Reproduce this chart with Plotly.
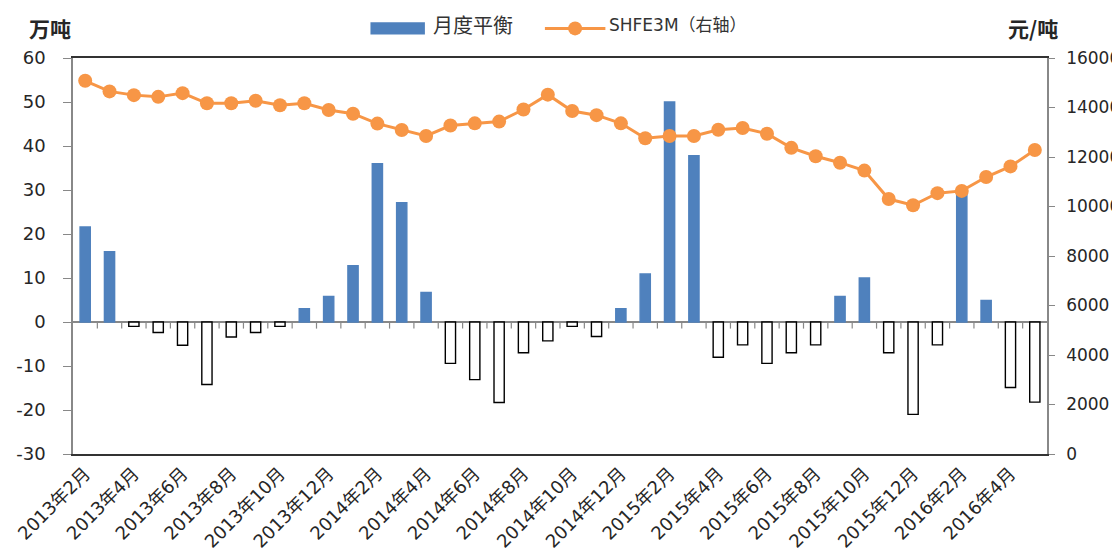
import plotly.graph_objects as go

months = ["2013年2月", "2013年3月", "2013年4月", "2013年5月", "2013年6月", "2013年7月",
          "2013年8月", "2013年9月", "2013年10月", "2013年11月", "2013年12月",
          "2014年1月", "2014年2月", "2014年3月", "2014年4月", "2014年5月", "2014年6月",
          "2014年7月", "2014年8月", "2014年9月", "2014年10月", "2014年11月", "2014年12月",
          "2015年1月", "2015年2月", "2015年3月", "2015年4月", "2015年5月", "2015年6月",
          "2015年7月", "2015年8月", "2015年9月", "2015年10月", "2015年11月", "2015年12月",
          "2016年1月", "2016年2月", "2016年3月", "2016年4月", "2016年5月"]

balance = [21.6, 16.0, -1.0, -2.4, -5.3, -14.2, -3.4, -2.4, -1.0, 3.0, 5.8,
           12.8, 36.0, 27.1, 6.7, -9.4, -13.1, -18.3, -7.0, -4.3, -1.0, -3.3, 3.0,
           10.9, 50.0, 37.8, -8.0, -5.2, -9.4, -7.0, -5.2, 5.8, 10.0, -7.0, -21.0,
           -5.2, 29.3, 4.9, -14.9, -18.2]

shfe = [15080, 14650, 14500, 14430, 14580, 14170, 14170, 14270, 14090, 14170, 13900,
        13750, 13350, 13090, 12850, 13270, 13360, 13430, 13920, 14520, 13860, 13690, 13360,
        12760, 12850, 12850, 13100, 13170, 12940, 12370, 12030, 11770, 11450, 10300, 10050,
        10540, 10630, 11190, 11620, 12280]

x_tick_labels = months[::2]
left_ticks = [-30, -20, -10, 0, 10, 20, 30, 40, 50, 60]
left_tick_text = ["-30", "-20", "-10", "0", "10", "20", "30", "40", "50", "60"]
right_ticks = [0, 2000, 4000, 6000, 8000, 10000, 12000, 14000, 16000]
right_tick_text = ["0", "2000", "4000", "6000", "8000", "10000", "12000", "14000", "16000"]

BLUE = "#4F81BD"
ORANGE = "#F79646"
TXT = "#262626"
FONT = "DejaVu Sans, Noto Sans CJK SC"
CJK = "Noto Sans CJK SC"

bar_fill = [BLUE if v >= 0 else "white" for v in balance]
bar_line = [BLUE if v >= 0 else "black" for v in balance]

fig = go.Figure()
fig.add_trace(go.Bar(
    x=months, y=balance, name="月度平衡", width=0.42,
    marker=dict(color=bar_fill, line=dict(color=bar_line, width=1.4)),
    showlegend=False, yaxis="y",
))
fig.add_trace(go.Scatter(
    x=months, y=shfe, name="SHFE3M（右轴）", mode="lines+markers",
    line=dict(color=ORANGE, width=3),
    marker=dict(color=ORANGE, size=14),
    showlegend=False, yaxis="y2",
))

# boundary tick marks on the zero line (category axis ticks between bars)
shapes = []
for i in range(1, len(months)):
    shapes.append(dict(type="line", xref="x", yref="y", x0=i - 0.5, x1=i - 0.5,
                       y0=0, y1=-1.5, line=dict(color="#888888", width=1.2)))

# custom legend
shapes.append(dict(type="rect", xref="paper", yref="paper", x0=0.3054, x1=0.3613,
                   y0=1.0593, y1=1.0902, fillcolor=BLUE, line=dict(width=0)))
shapes.append(dict(type="line", xref="paper", yref="paper", x0=0.4845, x1=0.5466,
                   y0=1.0747, y1=1.0747, line=dict(color=ORANGE, width=3)))
shapes.append(dict(type="circle", xref="paper", yref="paper", xsizemode="pixel",
                   ysizemode="pixel", xanchor=0.5155, yanchor=1.0747,
                   x0=-7, x1=7, y0=-7, y1=7, fillcolor=ORANGE, line=dict(width=0)))

annotations = [
    dict(text="<b>万吨</b>", xref="paper", yref="paper", x=-0.0238, y=1.0760,
         xanchor="center", yanchor="middle", showarrow=False,
         font=dict(family=CJK, size=21, color=TXT)),
    dict(text="<b>元/吨</b>", xref="paper", yref="paper", x=0.9855, y=1.0747,
         xanchor="center", yanchor="middle", showarrow=False,
         font=dict(family=CJK, size=21, color=TXT)),
    dict(text="月度平衡", xref="paper", yref="paper", x=0.3675, y=1.0850,
         xanchor="left", yanchor="middle", showarrow=False,
         font=dict(family=CJK, size=20, color="#333333")),
    dict(text="SHFE3M（右轴）", xref="paper", yref="paper", x=0.5487, y=1.0825,
         xanchor="left", yanchor="middle", showarrow=False,
         font=dict(family=FONT, size=17, color="#333333")),
]

# the page body adds an 8px offset, so the figure is 8px smaller to keep the same frame
fig.update_layout(
    width=1112, height=546,
    margin=dict(l=65, r=73, t=50, b=100),
    paper_bgcolor="white", plot_bgcolor="white",
    font=dict(family=FONT, color=TXT),
    bargap=0.58,
    shapes=shapes, annotations=annotations,
    xaxis=dict(
        type="category", tickmode="array", tickvals=x_tick_labels, ticktext=x_tick_labels,
        range=[-0.5, len(months) - 0.5], autorange=False,
        tickangle=-45, ticks="", showgrid=False, automargin=False,
        showline=True, linecolor="#333333", linewidth=2, mirror=True,
        tickfont=dict(family=FONT, size=18, color=TXT),
    ),
    yaxis=dict(
        range=[-30, 60], tickmode="array", tickvals=left_ticks, ticktext=left_tick_text,
        showgrid=False, automargin=False,
        showline=True, linecolor="#888888", linewidth=1.5,
        ticks="outside", ticklen=8, tickcolor="#888888", tickwidth=1.2,
        zeroline=True, zerolinecolor="#888888", zerolinewidth=1.5,
        tickfont=dict(family=FONT, size=18, color=TXT), ticklabelstandoff=14,
    ),
    yaxis2=dict(
        range=[0, 16000], tickmode="array", tickvals=right_ticks, ticktext=right_tick_text,
        overlaying="y", side="right", automargin=False,
        showgrid=False, zeroline=False,
        showline=True, linecolor="#888888", linewidth=1.5,
        ticks="outside", ticklen=6, tickcolor="#888888", tickwidth=1.2,
        tickfont=dict(family=FONT, size=17, color=TXT), ticklabelstandoff=8,
    ),
)

fig.write_html("out.html")
